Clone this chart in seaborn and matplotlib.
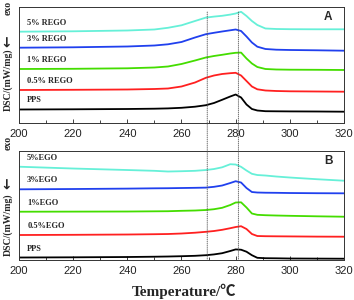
import numpy as np
import pandas as pd
import matplotlib
matplotlib.use("Agg")
import matplotlib.pyplot as plt
from matplotlib.patches import ConnectionPatch
import seaborn as sns

# temperatures (deg C) at which the curves were read
temps = [200, 220, 240, 250, 255, 260, 265, 269, 272, 275, 278, 280, 282, 284, 286, 288, 291, 295, 300, 310, 320]

# panel A: REGO composites (heat flow, arbitrary offset units)
pps_a = [13.5, 13.7, 14.0, 14.3, 14.6, 15.2, 16.3, 17.8, 20.0, 23.2, 26.5, 28.5, 25.5, 18.5, 14.0, 12.5, 11.8, 11.7, 11.6, 11.5, 11.3]
rego05 = [33.0, 33.2, 33.5, 34.0, 34.5, 36.5, 40.5, 45.2, 47.5, 49.0, 49.8, 50.2, 47.5, 42.0, 36.5, 33.7, 32.5, 32.0, 31.7, 31.5, 31.3]
rego1 = [54.0, 54.2, 54.7, 55.5, 56.5, 59.0, 62.5, 65.5, 67.0, 68.2, 69.5, 70.2, 70.4, 64.5, 59.5, 56.0, 54.0, 53.5, 53.3, 53.2, 53.0]
rego3 = [75.3, 75.7, 76.5, 77.5, 78.7, 81.0, 85.5, 88.8, 90.2, 91.5, 92.7, 93.5, 92.0, 86.5, 80.5, 76.3, 74.0, 73.3, 73.0, 72.7, 72.3]
rego5 = [91.3, 91.7, 92.5, 93.5, 95.2, 97.7, 102.0, 105.4, 106.4, 107.2, 108.4, 109.5, 111.2, 107.0, 102.0, 98.0, 94.5, 94.0, 93.8, 93.7, 93.7]

# panel B: EGO composites
pps_b = [2.5, 2.7, 3.0, 3.3, 3.5, 3.8, 4.2, 4.8, 5.6, 6.8, 9.0, 10.6, 10.3, 8.3, 4.8, 2.2, 1.8, 1.7, 1.5, 1.4, 1.3]
ego05 = [25.0, 25.2, 25.5, 25.8, 26.0, 26.5, 27.3, 28.2, 29.0, 30.2, 31.8, 33.0, 33.8, 31.0, 26.0, 24.0, 23.8, 23.7, 23.6, 23.4, 23.3]
ego1 = [48.3, 48.4, 48.5, 48.7, 48.8, 49.2, 49.5, 50.0, 50.8, 52.2, 55.0, 57.5, 57.7, 52.5, 46.5, 45.2, 44.8, 44.5, 44.2, 43.7, 43.3]
ego3 = [70.7, 71.0, 71.4, 71.7, 71.8, 72.0, 72.2, 72.4, 73.2, 74.5, 77.0, 78.8, 77.5, 72.0, 68.0, 67.5, 67.3, 67.2, 67.0, 66.8, 66.7]
ego5 = [93.3, 91.5, 90.0, 89.2, 88.5, 88.8, 89.2, 90.0, 91.0, 92.7, 95.8, 95.5, 93.2, 89.5, 86.2, 85.0, 84.5, 83.5, 82.5, 80.8, 79.3]

labels_a = ["PPS", "0.5% REGO", "1% REGO", "3% REGO", "5% REGO"]
labels_b = ["PPS", "0.5%EGO", "1%EGO", "3%EGO", "5%EGO"]
colors = ["#000000", "#ff2020", "#44dd00", "#2040ee", "#66f0d8"]
dotted_temps = [269.5, 281]


def long_form(labels, series):
    rows = []
    for lab, vals in zip(labels, series):
        for t, v in zip(temps, vals):
            rows.append({"T": t, "DSC": v, "sample": lab})
    return pd.DataFrame(rows)


sns.set_style("ticks")
plt.rcParams["font.family"] = ["Liberation Sans", "DejaVu Sans"]

fig = plt.figure(figsize=(3.54, 3.0), dpi=100)
ax_a = fig.add_axes([0.0537, 0.59, 0.918, 0.3867])
ax_b = fig.add_axes([0.0537, 0.1333, 0.918, 0.3633])

panels = [
    (ax_a, labels_a, [pps_a, rego05, rego1, rego3, rego5], (0, 116), "A"),
    (ax_b, labels_b, [pps_b, ego05, ego1, ego3, ego5], (0, 109), "B"),
]

for ax, labels, series, ylim, letter in panels:
    df = long_form(labels, series)
    sns.lineplot(data=df, x="T", y="DSC", hue="sample", hue_order=labels,
                 palette=colors, linewidth=1.3, legend=False, ax=ax)
    for lab, vals in zip(labels, series):
        ax.text(203, vals[0] + 9, lab, fontsize=6, fontweight="bold",
                family="Liberation Serif", va="center", ha="left")
    ax.set_xlim(200, 320)
    ax.set_ylim(*ylim)
    ax.set_xticks(range(200, 321, 20))
    ax.set_xticks(range(200, 321, 10), minor=True)
    ax.set_yticks([])
    ax.tick_params(axis="x", which="major", direction="in", length=3, width=0.6,
                   labelsize=8, colors="#222222", pad=4)
    ax.tick_params(axis="x", which="minor", direction="in", length=2, width=0.6)
    ax.set_xlabel("")
    ax.set_ylabel("")
    for sp in ax.spines.values():
        sp.set_linewidth(0.7)
        sp.set_color("#333333")
    ax.text(0.965, 0.91, letter, transform=ax.transAxes, fontsize=8.5,
            fontweight="bold", ha="right", va="center")

# dotted guide lines through both panels
for t in dotted_temps:
    con = ConnectionPatch(xyA=(t, 111), coordsA=ax_a.transData,
                          xyB=(t, 0), coordsB=ax_b.transData,
                          linestyle=(0, (1, 1.5)), linewidth=0.6, color="#555555")
    fig.add_artist(con)

# y labels
ylab = dict(rotation=90, fontsize=7, fontweight="bold", family="Liberation Serif",
            ha="center", va="center")
arrow = dict(rotation=90, fontsize=10, fontweight="bold", ha="center", va="center",
             family="DejaVu Sans")
fig.text(0.022, 1 - 80 / 300, "DSC/(mW/mg)", **ylab)
fig.text(0.022, 1 - 41 / 300, "\u2190", **arrow)
fig.text(0.022, 1 - 8 / 300, "exo", **ylab)
fig.text(0.022, 1 - 225 / 300, "DSC/(mW/mg)", **ylab)
fig.text(0.022, 1 - 183 / 300, "\u2190", **arrow)
fig.text(0.022, 1 - 143 / 300, "exo", **ylab)

fig.text(0.52, 1 - 291 / 300, "Temperature/\u2103", fontsize=11, fontweight="bold",
         family=["Liberation Serif", "Noto Sans CJK SC"], ha="center", va="center")

fig.savefig("out.png", dpi=100)
